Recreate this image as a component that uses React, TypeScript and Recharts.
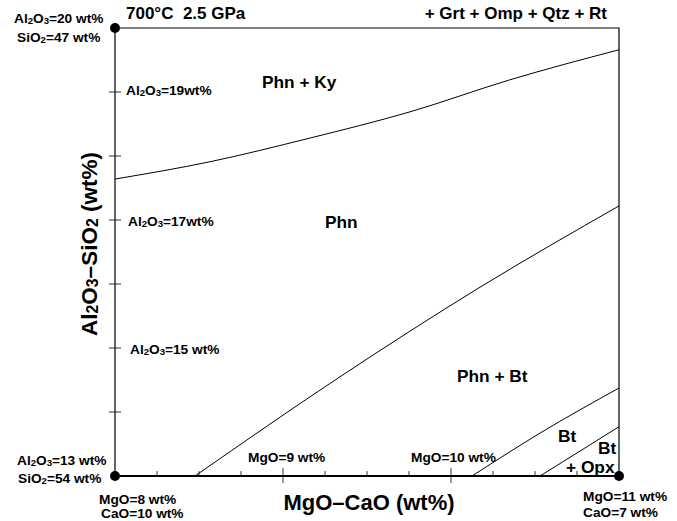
import React from 'react';
import { ComposedChart, Line, Scatter, XAxis, YAxis, ReferenceArea } from 'recharts';

// x: MgO (wt%), y: Al2O3 (wt%)
const kyBoundary = [
  { x: 8.0, y: 17.64 },
  { x: 8.565, y: 17.91 },
  { x: 9.16, y: 18.28 },
  { x: 9.756, y: 18.69 },
  { x: 10.35, y: 19.19 },
  { x: 11.0, y: 19.66 },
];
const btBoundary = [
  { x: 8.476, y: 13.0 },
  { x: 9.339, y: 14.55 },
  { x: 10.173, y: 15.95 },
  { x: 11.0, y: 17.22 },
];
const phnOutBoundary = [
  { x: 10.125, y: 13.0 },
  { x: 10.53, y: 13.67 },
  { x: 11.0, y: 14.375 },
];
const opxBoundary = [
  { x: 10.53, y: 13.0 },
  { x: 11.0, y: 13.77 },
];
const corners = [
  { x: 8, y: 20 },
  { x: 8, y: 13 },
  { x: 11, y: 13 },
];
const xTicks = [8, 8.25, 8.5, 8.75, 9, 9.25, 9.5, 9.75, 10, 10.25, 10.5, 10.75, 11];
const yTicks = [13, 14, 15, 16, 17, 18, 19, 20];

const FONT = '"Liberation Sans", Arial, Helvetica, sans-serif';
const SMALL = 13.7;
const REGION = 17.3;

// digits that follow a letter are chemical subscripts
const chem = (s: string, fs: number) => {
  const parts: React.ReactNode[] = [];
  let buf = '';
  let lowered = false;
  let k = 0;
  const flush = () => {
    if (!buf) return;
    parts.push(<tspan key={k++} dy={lowered ? -1 : 0}>{buf}</tspan>);
    lowered = false;
    buf = '';
  };
  for (let i = 0; i < s.length; i++) {
    const c = s[i];
    if (/\d/.test(c) && i > 0 && /[A-Za-z]/.test(s[i - 1])) {
      flush();
      parts.push(<tspan key={k++} fontSize={fs * 0.7} dy={lowered ? 0 : 1}>{c}</tspan>);
      lowered = true;
    } else {
      buf += c;
    }
  }
  flush();
  return parts;
};

const Txt = ({ x, y, s, fs = SMALL, anchor = 'start' }: any) => (
  <text x={x} y={y} fontSize={fs} fontWeight="bold" fontFamily={FONT} textAnchor={anchor} fill="#000">
    {chem(s, fs)}
  </text>
);

const renderXTick = (props: any) => {
  const { x, y, payload } = props;
  const v = payload.value;
  if (v === 8 || v === 11) return <g />;
  const major = v % 1 === 0;
  return <line x1={x} x2={x} y1={y - (major ? 8 : 5)} y2={y + (major ? 7 : 0)} stroke="#000" strokeWidth={0.8} />;
};

const renderYTick = (props: any) => {
  const { x, y, payload } = props;
  const v = payload.value;
  if (v === 13 || v === 20) return <g />;
  return <line x1={x - 6} x2={x + 6} y1={y} y2={y} stroke="#000" strokeWidth={0.8} />;
};

const Dot = (props: any) => <circle cx={props.cx} cy={props.cy} r={5} fill="#000" />;

export default function App() {
  return (
    <div style={{ position: 'absolute', left: 0, top: 0, width: 677, height: 521, background: '#fff' }}>
      <ComposedChart width={677} height={521} margin={{ top: 28, right: 58, bottom: 44, left: 114 }}>
        <XAxis
          type="number"
          dataKey="x"
          domain={[8, 11]}
          ticks={xTicks}
          interval={0}
          height={1}
          tickSize={0}
          tickMargin={0}
          tickLine={false}
          tick={renderXTick}
          axisLine={{ stroke: '#000', strokeWidth: 2 }}
        />
        <YAxis
          type="number"
          dataKey="y"
          domain={[13, 20]}
          ticks={yTicks}
          interval={0}
          width={1}
          tickSize={0}
          tickMargin={0}
          tickLine={false}
          tick={renderYTick}
          axisLine={false}
        />
        <ReferenceArea x1={8} x2={11} y1={13} y2={20} fill="none" stroke="#000" strokeWidth={1.2} />
        <Line data={kyBoundary} dataKey="y" type="monotone" stroke="#000" strokeWidth={1} dot={false} isAnimationActive={false} />
        <Line data={btBoundary} dataKey="y" type="monotone" stroke="#000" strokeWidth={1} dot={false} isAnimationActive={false} />
        <Line data={phnOutBoundary} dataKey="y" type="monotone" stroke="#000" strokeWidth={1} dot={false} isAnimationActive={false} />
        <Line data={opxBoundary} dataKey="y" type="linear" stroke="#000" strokeWidth={1} dot={false} isAnimationActive={false} />
        <Scatter data={corners} dataKey="y" shape={<Dot />} isAnimationActive={false} />
      </ComposedChart>
      <svg width={677} height={521} style={{ position: 'absolute', left: 0, top: 0, pointerEvents: 'none' }}>
        <Txt x={126} y={19} s={'700°C\u00a0\u00a02.5 GPa'} fs={17} />
        <Txt x={607} y={19} s="+ Grt + Omp + Qtz + Rt" fs={17} anchor="end" />

        <Txt x={14} y={23} s="Al2O3=20 wt%" />
        <Txt x={17} y={42} s="SiO2=47 wt%" />
        <Txt x={17} y={465} s="Al2O3=13 wt%" />
        <Txt x={18} y={483} s="SiO2=54 wt%" />
        <Txt x={99} y={504} s="MgO=8 wt%" />
        <Txt x={101} y={518} s="CaO=10 wt%" />
        <Txt x={583} y={501} s="MgO=11 wt%" />
        <Txt x={583} y={517} s="CaO=7 wt%" />

        <Txt x={126} y={95} s="Al2O3=19wt%" />
        <Txt x={128} y={226} s="Al2O3=17wt%" />
        <Txt x={130} y={354} s="Al2O3=15 wt%" />
        <Txt x={248} y={462} s="MgO=9 wt%" />
        <Txt x={411} y={462} s="MgO=10 wt%" />

        <Txt x={262} y={88} s="Phn + Ky" fs={REGION} />
        <Txt x={325} y={228} s="Phn" fs={REGION} />
        <Txt x={457} y={382} s="Phn + Bt" fs={REGION} />
        <Txt x={558} y={442} s="Bt" fs={REGION} />
        <Txt x={598} y={454} s="Bt" fs={REGION} />
        <Txt x={566} y={473} s="+ Opx" fs={REGION} />

        <Txt x={369} y={510} s="MgO–CaO (wt%)" fs={22} anchor="middle" />
        <g transform="translate(97,244) rotate(-90)">
          <Txt x={0} y={0} s="Al2O3–SiO2 (wt%)" fs={22.5} anchor="middle" />
        </g>
      </svg>
    </div>
  );
}
